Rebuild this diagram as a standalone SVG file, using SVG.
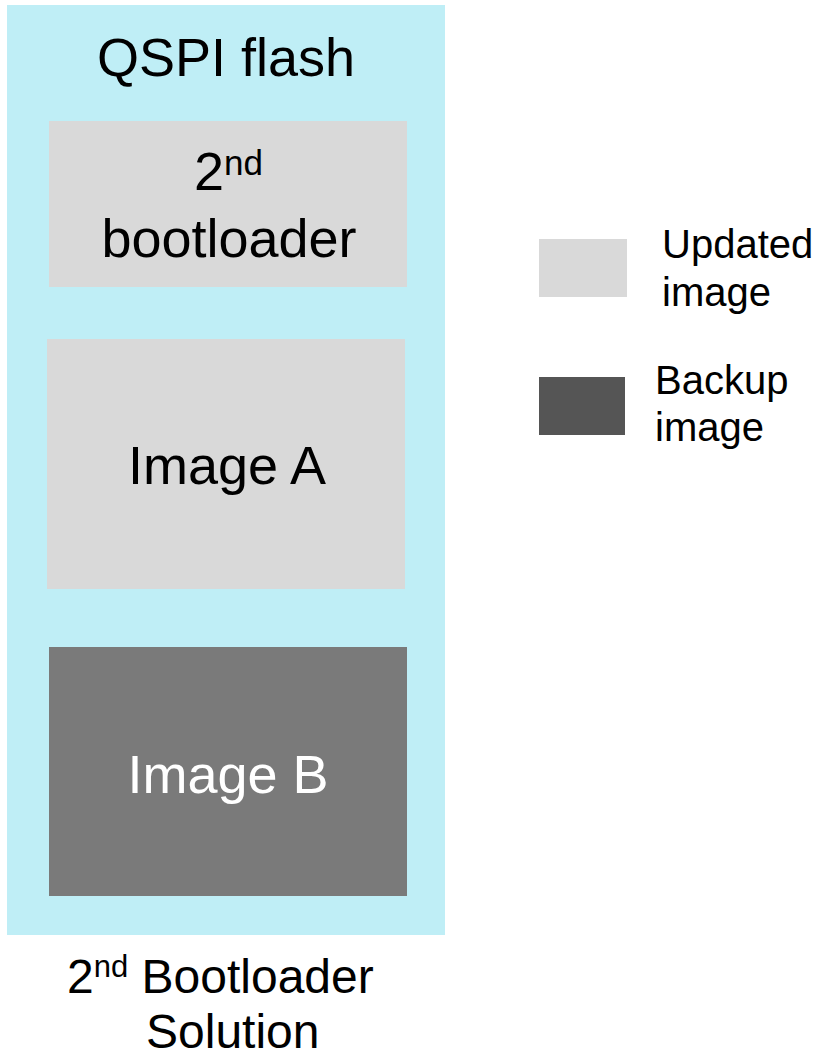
<svg xmlns="http://www.w3.org/2000/svg" width="817" height="1060" viewBox="0 0 817 1060">
<style>
text{font-family:"Liberation Sans",Arial,sans-serif;fill:#000}
.big{font-size:54px}
.leg{font-size:40px}
.bot{font-size:48px}
.light{fill:#d9d9d9}
.dark{fill:#7a7a7a}
</style>
<rect width="817" height="1060" fill="#fff"/>
<g id="qspi-flash">
<rect x="7" y="5" width="438" height="930" fill="#bfeef6"/>
<text class="big" x="226" y="76" text-anchor="middle">QSPI flash</text>
</g>
<g id="bootloader">
<rect class="light" x="49" y="121" width="358" height="166"/>
<text class="big" x="194" y="190">2<tspan font-size="35" dy="-15">nd</tspan></text>
<text class="big" x="229" y="257" text-anchor="middle">bootloader</text>
</g>
<g id="image-a">
<rect class="light" x="47" y="339" width="358" height="250"/>
<text class="big" x="227" y="484" text-anchor="middle">Image A</text>
</g>
<g id="image-b">
<rect class="dark" x="49" y="647" width="358" height="249"/>
<text class="big" x="228" y="793" text-anchor="middle" style="fill:#fff">Image B</text>
</g>
<g id="legend-updated">
<rect class="light" x="539" y="239" width="88" height="58"/>
<text class="leg" x="662" y="258">Updated</text>
<text class="leg" x="662" y="306">image</text>
</g>
<g id="legend-backup">
<rect x="539" y="377" width="86" height="58" fill="#555"/>
<text class="leg" x="655" y="394">Backup</text>
<text class="leg" x="655" y="441">image</text>
</g>
<g id="caption">
<text class="bot" x="67" y="993">2<tspan font-size="31" dy="-16">nd</tspan><tspan dy="16"> Bootloader</tspan></text>
<text class="bot" x="146" y="1048">Solution</text>
</g>
<g id="connectors"/>
</svg>
